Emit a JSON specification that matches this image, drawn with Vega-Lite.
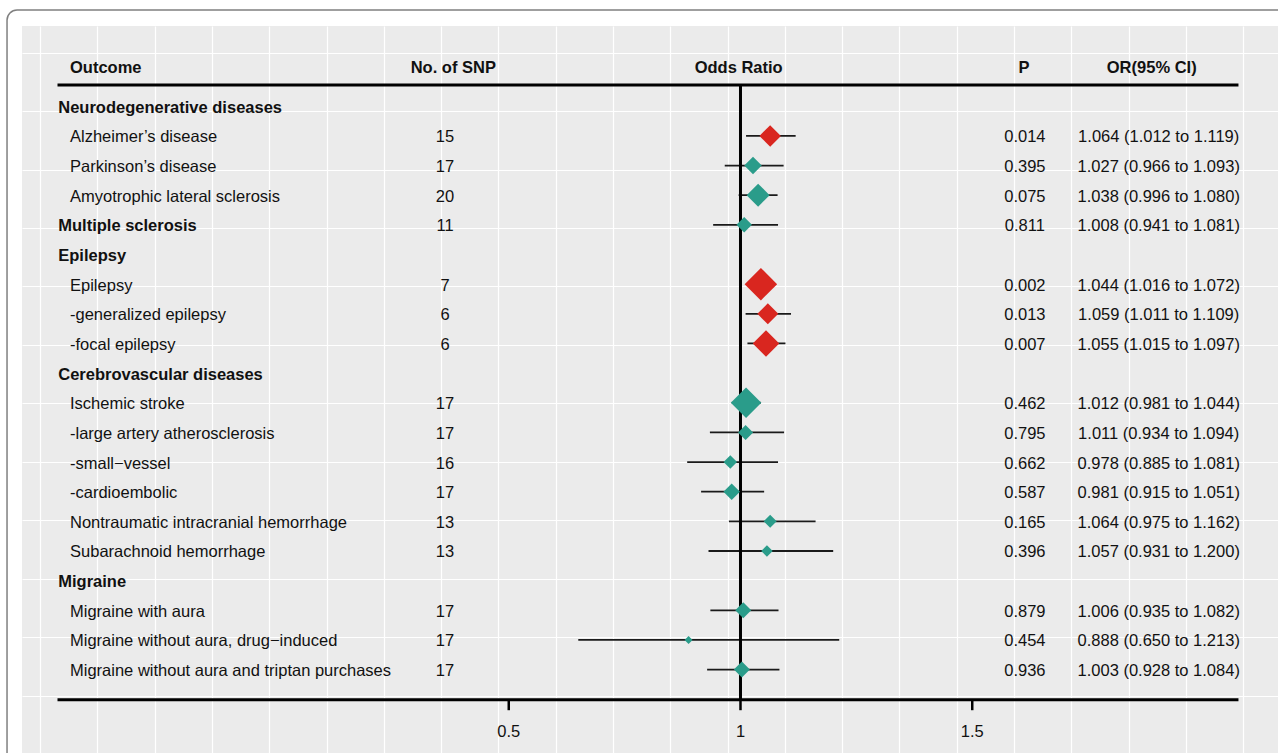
{
  "$schema": "https://vega.github.io/schema/vega-lite/v6.json",
  "width": 1256,
  "height": 727,
  "autosize": {"type": "none"},
  "padding": {"left": 22, "top": 26, "right": 0, "bottom": 0},
  "background": "white",
  "config": {
    "view": {"stroke": null, "fill": "#EBEBEB"},
    "font": "Liberation Sans",
    "text": {"font": "Liberation Sans", "fontSize": 16.5, "color": "#111111", "dy": 1.5},
    "axis": {"domain": false, "labels": false, "ticks": false, "title": null, "grid": true, "gridColor": "#FFFFFF", "gridWidth": 1.2, "gridOpacity": 1}
  },
  "datasets": {
    "rows": [
      {"row": 1, "label": "Neurodegenerative diseases", "kind": "group"},
      {"row": 2, "label": "Alzheimer’s disease", "kind": "item", "snp": 15, "or": 1.064, "lo": 1.012, "hi": 1.119, "p": 0.014, "weight": 21.5},
      {"row": 3, "label": "Parkinson’s disease", "kind": "item", "snp": 17, "or": 1.027, "lo": 0.966, "hi": 1.093, "p": 0.395, "weight": 17.5},
      {"row": 4, "label": "Amyotrophic lateral sclerosis", "kind": "item", "snp": 20, "or": 1.038, "lo": 0.996, "hi": 1.080, "p": 0.075, "weight": 23},
      {"row": 5, "label": "Multiple sclerosis", "kind": "group", "snp": 11, "or": 1.008, "lo": 0.941, "hi": 1.081, "p": 0.811, "weight": 15.5},
      {"row": 6, "label": "Epilepsy", "kind": "group"},
      {"row": 7, "label": "Epilepsy", "kind": "item", "snp": 7, "or": 1.044, "lo": 1.016, "hi": 1.072, "p": 0.002, "weight": 32.5},
      {"row": 8, "label": "-generalized epilepsy", "kind": "item", "snp": 6, "or": 1.059, "lo": 1.011, "hi": 1.109, "p": 0.013, "weight": 21},
      {"row": 9, "label": "-focal epilepsy", "kind": "item", "snp": 6, "or": 1.055, "lo": 1.015, "hi": 1.097, "p": 0.007, "weight": 26.5},
      {"row": 10, "label": "Cerebrovascular diseases", "kind": "group"},
      {"row": 11, "label": "Ischemic stroke", "kind": "item", "snp": 17, "or": 1.012, "lo": 0.981, "hi": 1.044, "p": 0.462, "weight": 30.5},
      {"row": 12, "label": "-large artery atherosclerosis", "kind": "item", "snp": 17, "or": 1.011, "lo": 0.934, "hi": 1.094, "p": 0.795, "weight": 15},
      {"row": 13, "label": "-small−vessel", "kind": "item", "snp": 16, "or": 0.978, "lo": 0.885, "hi": 1.081, "p": 0.662, "weight": 13.5},
      {"row": 14, "label": "-cardioembolic", "kind": "item", "snp": 17, "or": 0.981, "lo": 0.915, "hi": 1.051, "p": 0.587, "weight": 16.5},
      {"row": 15, "label": "Nontraumatic intracranial hemorrhage", "kind": "item", "snp": 13, "or": 1.064, "lo": 0.975, "hi": 1.162, "p": 0.165, "weight": 13},
      {"row": 16, "label": "Subarachnoid hemorrhage", "kind": "item", "snp": 13, "or": 1.057, "lo": 0.931, "hi": 1.200, "p": 0.396, "weight": 11.5},
      {"row": 17, "label": "Migraine", "kind": "group"},
      {"row": 18, "label": "Migraine with aura", "kind": "item", "snp": 17, "or": 1.006, "lo": 0.935, "hi": 1.082, "p": 0.879, "weight": 16},
      {"row": 19, "label": "Migraine without aura, drug−induced", "kind": "item", "snp": 17, "or": 0.888, "lo": 0.650, "hi": 1.213, "p": 0.454, "weight": 8},
      {"row": 20, "label": "Migraine without aura and triptan purchases", "kind": "item", "snp": 17, "or": 1.003, "lo": 0.928, "hi": 1.084, "p": 0.936, "weight": 16}
    ],
    "ticks": [
      {"tick": 0.5, "lab": "0.5"},
      {"tick": 1, "lab": "1"},
      {"tick": 1.5, "lab": "1.5"}
    ]
  },
  "layer": [
    {
      "data": {"name": "rows"},
      "transform": [{"filter": "isValid(datum.or)"}],
      "mark": {"type": "rule", "color": "#1a1a1a", "strokeWidth": 1.8},
      "encoding": {
        "x": {
          "field": "lo", "type": "quantitative",
          "scale": {"domain": [-0.5502, 2.1597], "nice": false, "zero": false},
          "axis": {"values": [-0.5113, -0.3877, -0.2641, -0.1404, -0.0168, 0.1068, 0.2304, 0.354, 0.4777, 0.6013, 0.7249, 0.8485, 0.9721, 1.0958, 1.2194, 1.343, 1.4666, 1.5902, 1.7138, 1.8375, 1.9611, 2.0847]}
        },
        "x2": {"field": "hi"},
        "y": {
          "field": "row", "type": "quantitative",
          "scale": {"domain": [-1.7066, 22.813], "nice": false, "zero": false, "reverse": true},
          "axis": {"values": [-0.786, 1.177, 3.15, 5.116, 7.079, 9.052, 11.019, 12.998, 14.965, 16.938, 18.911, 20.884]}
        }
      }
    },
    {
      "data": {"values": [{}]},
      "mark": {"type": "rect", "fill": null, "stroke": "#808080", "strokeWidth": 1.5, "cornerRadius": 10, "clip": false},
      "encoding": {
        "x": {"datum": -0.5825, "type": "quantitative"},
        "x2": {"datum": 2.25},
        "y": {"datum": -2.246, "type": "quantitative"},
        "y2": {"datum": 24.4}
      }
    },
    {
      "data": {"values": [{}]},
      "mark": {"type": "rule", "color": "#000000", "strokeWidth": 3},
      "encoding": {
        "x": {"datum": -0.4736, "type": "quantitative"},
        "x2": {"datum": 2.0744},
        "y": {"datum": 0.283, "type": "quantitative"}
      }
    },
    {
      "data": {"values": [{}]},
      "mark": {"type": "rule", "color": "#000000", "strokeWidth": 3},
      "encoding": {
        "x": {"datum": -0.4736, "type": "quantitative"},
        "x2": {"datum": 2.0744},
        "y": {"datum": 21.02, "type": "quantitative"}
      }
    },
    {
      "data": {"values": [{}]},
      "mark": {"type": "rule", "color": "#000000", "strokeWidth": 3},
      "encoding": {
        "x": {"datum": 1, "type": "quantitative"},
        "y": {"datum": 0.283, "type": "quantitative"},
        "y2": {"datum": 21.02}
      }
    },
    {
      "data": {"name": "ticks"},
      "mark": {"type": "rule", "color": "#000000", "strokeWidth": 2.5},
      "encoding": {
        "x": {"field": "tick", "type": "quantitative"},
        "y": {"datum": 21.02, "type": "quantitative"},
        "y2": {"datum": 21.37}
      }
    },
    {
      "data": {"name": "ticks"},
      "mark": {"type": "text", "align": "center", "baseline": "middle"},
      "encoding": {
        "x": {"field": "tick", "type": "quantitative"},
        "y": {"datum": 22.04, "type": "quantitative"},
        "text": {"field": "lab"}
      }
    },
    {
      "data": {"name": "rows"},
      "transform": [{"filter": "isValid(datum.or)"}],
      "mark": {"type": "point", "shape": "diamond", "filled": true, "opacity": 1, "strokeWidth": 0},
      "encoding": {
        "x": {"field": "or", "type": "quantitative"},
        "y": {"field": "row", "type": "quantitative"},
        "size": {"field": "weight", "type": "quantitative", "scale": {"type": "pow", "exponent": 2, "domain": [0, 40], "range": [0, 1600]}, "legend": null},
        "color": {"condition": {"test": "datum.p < 0.05", "value": "#D9261F"}, "value": "#2A9C8A"}
      }
    },
    {
      "data": {"name": "rows"},
      "transform": [{"filter": "datum.kind === 'group'"}],
      "mark": {"type": "text", "align": "left", "baseline": "middle", "fontWeight": "bold"},
      "encoding": {
        "x": {"datum": -0.472, "type": "quantitative"},
        "y": {"field": "row", "type": "quantitative"},
        "text": {"field": "label"}
      }
    },
    {
      "data": {"name": "rows"},
      "transform": [{"filter": "datum.kind === 'item'"}],
      "mark": {"type": "text", "align": "left", "baseline": "middle"},
      "encoding": {
        "x": {"datum": -0.4466, "type": "quantitative"},
        "y": {"field": "row", "type": "quantitative"},
        "text": {"field": "label"}
      }
    },
    {
      "data": {"name": "rows"},
      "transform": [{"filter": "isValid(datum.or)"}],
      "mark": {"type": "text", "align": "center", "baseline": "middle"},
      "encoding": {
        "x": {"datum": 0.3625, "type": "quantitative"},
        "y": {"field": "row", "type": "quantitative"},
        "text": {"field": "snp"}
      }
    },
    {
      "data": {"name": "rows"},
      "transform": [{"filter": "isValid(datum.or)"}],
      "mark": {"type": "text", "align": "center", "baseline": "middle"},
      "encoding": {
        "x": {"datum": 1.6135, "type": "quantitative"},
        "y": {"field": "row", "type": "quantitative"},
        "text": {"field": "p", "format": ".3f"}
      }
    },
    {
      "data": {"name": "rows"},
      "transform": [
        {"filter": "isValid(datum.or)"},
        {"calculate": "format(datum.or, '.3f') + ' (' + format(datum.lo, '.3f') + ' to ' + format(datum.hi, '.3f') + ')'", "as": "ci"}
      ],
      "mark": {"type": "text", "align": "center", "baseline": "middle"},
      "encoding": {
        "x": {"datum": 1.9023, "type": "quantitative"},
        "y": {"field": "row", "type": "quantitative"},
        "text": {"field": "ci"}
      }
    },
    {
      "data": {"values": [{}]},
      "mark": {"type": "text", "align": "left", "baseline": "middle", "fontWeight": "bold", "text": "Outcome"},
      "encoding": {"x": {"datum": -0.4466, "type": "quantitative"}, "y": {"datum": -0.357, "type": "quantitative"}}
    },
    {
      "data": {"values": [{}]},
      "mark": {"type": "text", "align": "center", "baseline": "middle", "fontWeight": "bold", "text": "No. of SNP"},
      "encoding": {"x": {"datum": 0.3804, "type": "quantitative"}, "y": {"datum": -0.357, "type": "quantitative"}}
    },
    {
      "data": {"values": [{}]},
      "mark": {"type": "text", "align": "center", "baseline": "middle", "fontWeight": "bold", "text": "Odds Ratio"},
      "encoding": {"x": {"datum": 0.9961, "type": "quantitative"}, "y": {"datum": -0.357, "type": "quantitative"}}
    },
    {
      "data": {"values": [{}]},
      "mark": {"type": "text", "align": "center", "baseline": "middle", "fontWeight": "bold", "text": "P"},
      "encoding": {"x": {"datum": 1.6117, "type": "quantitative"}, "y": {"datum": -0.357, "type": "quantitative"}}
    },
    {
      "data": {"values": [{}]},
      "mark": {"type": "text", "align": "center", "baseline": "middle", "fontWeight": "bold", "text": "OR(95% CI)"},
      "encoding": {"x": {"datum": 1.8872, "type": "quantitative"}, "y": {"datum": -0.357, "type": "quantitative"}}
    }
  ]
}
